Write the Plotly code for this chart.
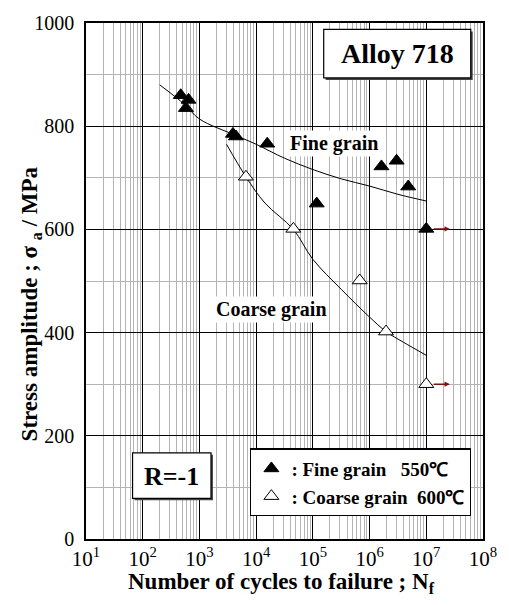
import math
import plotly.graph_objects as go

# ---------------- data ----------------
fine_N = [468, 643, 578, 3900, 4400, 15700, 117000, 1620000, 3000000, 4800000, 10000000]
fine_S = [860, 851, 835, 785, 780, 766, 650, 722, 733, 683, 601]

coarse_N = [6600, 45300, 670000, 1950000, 10000000]
coarse_S = [702, 601, 501, 402, 300]

fine_curve_N = [200, 550, 1000, 4400, 10000, 31600, 100000, 316000, 1000000, 3160000, 10000000]
fine_curve_S = [880, 842, 814, 782, 765, 738, 716, 698, 684, 668, 655]

coarse_curve_N = [3000, 6600, 14300, 45300, 100000, 316000, 1000000, 1950000, 4000000, 10000000]
coarse_curve_S = [765, 702, 651, 600, 542, 484, 430, 402, 381, 356]

runout_N = [10000000, 10000000]
runout_S = [601, 300]
runout_arrow_end_N = 26000000

x_tick_vals = [1e1, 1e2, 1e3, 1e4, 1e5, 1e6, 1e7, 1e8]
x_tick_text = ["10<sup>1</sup>", "10<sup>2</sup>", "10<sup>3</sup>", "10<sup>4</sup>",
               "10<sup>5</sup>", "10<sup>6</sup>", "10<sup>7</sup>", "10<sup>8</sup>"]
x_minor_vals = [m * d for d in [1e1, 1e2, 1e3, 1e4, 1e5, 1e6, 1e7] for m in range(2, 10)]
y_tick_vals = [0, 200, 400, 600, 800, 1000]

legend_fine = "<b>: Fine grain\u00a0\u00a0\u00a0550\u2103</b>"
legend_coarse = "<b>: Coarse grain\u00a0\u00a0600\u2103</b>"

FONT = "Liberation Serif"

# ---------------- figure ----------------
fig = go.Figure()

fig.add_trace(go.Scatter(x=fine_curve_N, y=fine_curve_S, mode="lines",
                         line=dict(color="black", width=1, shape="spline"),
                         showlegend=False, hoverinfo="skip"))
fig.add_trace(go.Scatter(x=coarse_curve_N, y=coarse_curve_S, mode="lines",
                         line=dict(color="black", width=1, shape="spline"),
                         showlegend=False, hoverinfo="skip"))

fig.add_trace(go.Scatter(x=fine_N, y=fine_S, mode="markers", name=legend_fine,
                         marker=dict(symbol="triangle-up", size=13, color="black",
                                     line=dict(color="black", width=1))))
fig.add_trace(go.Scatter(x=coarse_N, y=coarse_S, mode="markers", name=legend_coarse,
                         marker=dict(symbol="triangle-up", size=13, color="white",
                                     line=dict(color="black", width=1))))

annotations = []
for n, s in zip(runout_N, runout_S):
    annotations.append(dict(x=math.log10(runout_arrow_end_N), y=s, ax=math.log10(n), ay=s,
                            xref="x", yref="y", axref="x", ayref="y", text="",
                            showarrow=True, arrowhead=2, arrowsize=0.7, arrowwidth=1.5,
                            arrowcolor="#7a1212", startstandoff=6))

# curve labels
annotations.append(dict(x=5.37, y=766, xref="x", yref="y", text="<b>Fine grain</b>",
                        showarrow=False, bgcolor="white",
                        font=dict(family=FONT, size=20, color="black")))
annotations.append(dict(x=4.273, y=445, xref="x", yref="y", text="<b>Coarse grain</b>",
                        showarrow=False, bgcolor="white",
                        font=dict(family=FONT, size=20, color="black")))

# pixel -> paper helpers for layout boxes
L, R, T, B = 86, 18, 18, 66
W, H = 509, 605
PW, PH = W - L - R, H - T - B


def px(xp):
    return (xp - L) / PW


def py(yp):
    return (H - B - yp) / PH


shapes = []
# Alloy 718 box with shadow
shapes.append(dict(type="rect", xref="paper", yref="paper",
                   x0=px(330.5), x1=px(480.5), y0=py(26.5), y1=py(75.5),
                   fillcolor="#444444", line=dict(width=0), layer="above"))
shapes.append(dict(type="rect", xref="paper", yref="paper",
                   x0=px(328.5), x1=px(478.5), y0=py(24.5), y1=py(73.5),
                   fillcolor="white", line=dict(color="black", width=1.2), layer="above"))
annotations.append(dict(x=px(403.5), y=py(49), xref="paper", yref="paper",
                        xanchor="center", yanchor="middle", text="<b>Alloy 718</b>",
                        showarrow=False,
                        font=dict(family=FONT, size=28, color="black")))
# R=-1 box with shadow
shapes.append(dict(type="rect", xref="paper", yref="paper",
                   x0=px(135.5), x1=px(215.5), y0=py(454), y1=py(500),
                   fillcolor="#444444", line=dict(width=0), layer="above"))
shapes.append(dict(type="rect", xref="paper", yref="paper",
                   x0=px(133.5), x1=px(213.5), y0=py(452), y1=py(498),
                   fillcolor="white", line=dict(color="black", width=1.2), layer="above"))
annotations.append(dict(x=px(173.5), y=py(475.5), xref="paper", yref="paper",
                        xanchor="center", yanchor="middle", text="<b>R=-1</b>",
                        showarrow=False,
                        font=dict(family=FONT, size=26, color="black")))

# axis titles
annotations.append(dict(x=px(30), y=py(302), xref="paper", yref="paper",
                        xanchor="center", yanchor="middle",
                        text="<b>Stress amplitude ; \u03c3 <sub>a</sub> / MPa</b>", textangle=-90,
                        showarrow=False,
                        font=dict(family=FONT, size=23, color="black")))
annotations.append(dict(x=px(285), y=py(583), xref="paper", yref="paper",
                        xanchor="center", yanchor="middle",
                        text="<b>Number of cycles to failure ; N<sub>f</sub></b>",
                        showarrow=False,
                        font=dict(family=FONT, size=23, color="black")))

fig.update_layout(
    width=W, height=H,
    margin=dict(l=L, r=R, t=T, b=B),
    paper_bgcolor="white", plot_bgcolor="white",
    font=dict(family=FONT, color="black"),
    shapes=shapes, annotations=annotations,
    legend=dict(x=px(253.5), y=py(447.5), xanchor="left", yanchor="top",
                bgcolor="white", bordercolor="black", borderwidth=1.2,
                font=dict(family=FONT, size=19, color="black")),
    xaxis=dict(type="log", range=[1, 8], tickmode="array", tickvals=x_tick_vals,
               ticktext=x_tick_text, ticks="", showgrid=True, gridcolor="black",
               gridwidth=1, showline=True, linecolor="black", linewidth=1.5, mirror=True,
               zeroline=False, tickfont=dict(family=FONT, size=21, color="black"),
               minor=dict(tickmode="array", tickvals=x_minor_vals, showgrid=True,
                          gridcolor="#b4b4b4", gridwidth=1, ticks="")),
    yaxis=dict(range=[0, 1000], tickmode="array", tickvals=y_tick_vals, ticks="",
               showgrid=True, gridcolor="black", gridwidth=1, showline=True,
               linecolor="black", linewidth=1.5, mirror=True, zeroline=False,
               ticklabelstandoff=6,
               tickfont=dict(family=FONT, size=20, color="black"),
               minor=dict(dtick=100, showgrid=True, gridcolor="#b4b4b4", gridwidth=1,
                          ticks="")),
    showlegend=True,
)

fig.write_html("out.html")
